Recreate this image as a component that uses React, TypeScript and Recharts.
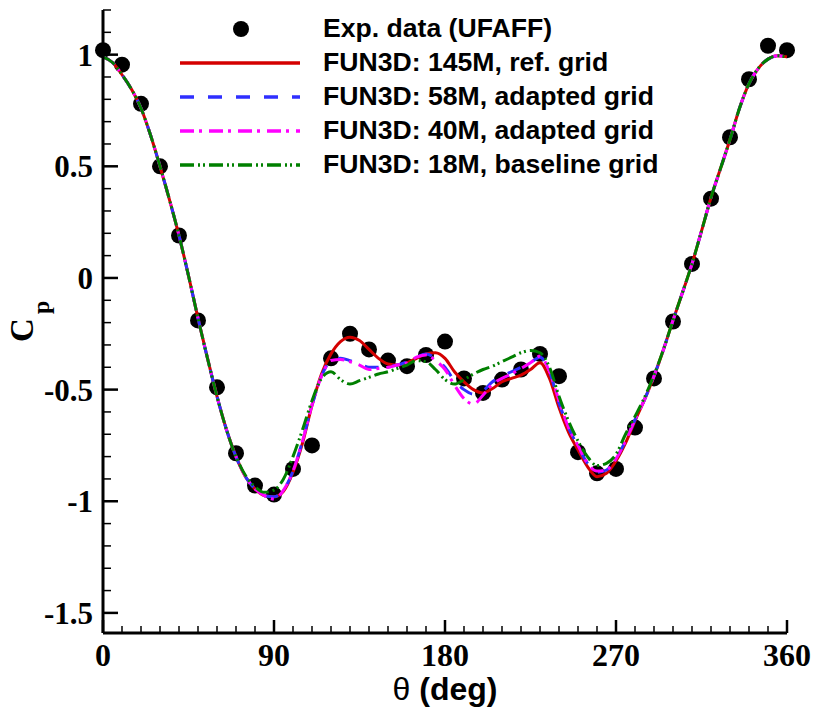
import React from "react";
import {
  ComposedChart,
  Line,
  XAxis,
  YAxis,
  Label,
} from "recharts";

// experimental points, every 10 deg
const thetaExp = [
  0, 10, 20, 30, 40, 50, 60, 70, 80, 90, 100, 110, 120, 130, 140, 150, 160, 170, 180,
  190, 200, 210, 220, 230, 240, 250, 260, 270, 280, 290, 300, 310, 320, 330, 340, 350, 360,
];
const cpExp = [
  1.02, 0.955, 0.78, 0.5, 0.19, -0.19, -0.49, -0.785, -0.93, -0.97, -0.855, -0.75, -0.36,
  -0.25, -0.32, -0.37, -0.395, -0.345, -0.285, -0.45, -0.515, -0.455, -0.41, -0.34, -0.44,
  -0.78, -0.875, -0.855, -0.67, -0.45, -0.195, 0.063, 0.355, 0.63, 0.89, 1.04, 1.02,
];

// CFD curves sampled every 5 deg
const thetaCfd = [
  0, 5, 10, 15, 20, 25, 30, 35, 40, 45, 50, 55, 60, 65, 70, 75, 80, 85, 90, 95, 100, 105,
  110, 115, 120, 125, 130, 135, 140, 145, 150, 155, 160, 165, 170, 175, 180, 185, 190, 195,
  200, 205, 210, 215, 220, 225, 230, 235, 240, 245, 250, 255, 260, 265, 270, 275, 280, 285,
  290, 295, 300, 305, 310, 315, 320, 325, 330, 335, 340, 345, 350, 355, 360,
];
const cp145M = [
  0.99, 0.965, 0.91, 0.845, 0.76, 0.64, 0.5, 0.35, 0.19, 0.01, -0.18, -0.36, -0.53, -0.68,
  -0.8, -0.89, -0.945, -0.975, -0.98, -0.955, -0.87, -0.74, -0.57, -0.43, -0.34, -0.285,
  -0.265, -0.28, -0.32, -0.36, -0.385, -0.39, -0.38, -0.36, -0.34, -0.335, -0.36, -0.42,
  -0.465, -0.5, -0.515, -0.495, -0.465, -0.45, -0.435, -0.41, -0.38, -0.45, -0.58, -0.69,
  -0.77, -0.845, -0.89, -0.875, -0.82, -0.74, -0.64, -0.545, -0.44, -0.32, -0.19, -0.065,
  0.063, 0.21, 0.36, 0.49, 0.62, 0.76, 0.87, 0.94, 0.98, 0.995, 0.99,
];
const cp58M = [
  0.99, 0.965, 0.91, 0.845, 0.76, 0.64, 0.5, 0.35, 0.19, 0.01, -0.18, -0.36, -0.53, -0.68,
  -0.8, -0.89, -0.945, -0.975, -0.98, -0.95, -0.865, -0.73, -0.57, -0.44, -0.37, -0.36,
  -0.37, -0.385, -0.4, -0.4, -0.395, -0.39, -0.375, -0.355, -0.34, -0.36, -0.4, -0.46,
  -0.5, -0.52, -0.505, -0.465, -0.44, -0.42, -0.4, -0.38, -0.355, -0.42, -0.56, -0.67,
  -0.755, -0.83, -0.87, -0.86, -0.81, -0.73, -0.635, -0.545, -0.44, -0.32, -0.19, -0.065,
  0.063, 0.21, 0.36, 0.49, 0.62, 0.76, 0.87, 0.94, 0.98, 0.995, 0.99,
];
const cp40M = [
  0.99, 0.965, 0.91, 0.845, 0.76, 0.64, 0.5, 0.35, 0.19, 0.01, -0.18, -0.36, -0.53, -0.68,
  -0.8, -0.89, -0.945, -0.975, -0.99, -0.95, -0.865, -0.73, -0.57, -0.44, -0.37, -0.365,
  -0.375, -0.39, -0.41, -0.405, -0.4, -0.39, -0.38, -0.355, -0.345, -0.37, -0.41, -0.48,
  -0.54, -0.565, -0.525, -0.475, -0.45, -0.43, -0.405, -0.38, -0.35, -0.42, -0.55, -0.67,
  -0.75, -0.83, -0.865, -0.86, -0.81, -0.73, -0.635, -0.545, -0.44, -0.32, -0.19, -0.065,
  0.063, 0.21, 0.36, 0.49, 0.62, 0.76, 0.87, 0.94, 0.98, 0.995, 0.99,
];
const cp18M = [
  0.99, 0.965, 0.91, 0.845, 0.76, 0.64, 0.5, 0.35, 0.19, 0.01, -0.18, -0.36, -0.53, -0.68,
  -0.8, -0.885, -0.935, -0.96, -0.95, -0.9, -0.8, -0.68, -0.55, -0.45, -0.42, -0.455,
  -0.475, -0.46, -0.445, -0.43, -0.42, -0.405, -0.39, -0.37, -0.375, -0.41, -0.455, -0.475,
  -0.455, -0.43, -0.41, -0.395, -0.375, -0.355, -0.335, -0.325, -0.335, -0.4, -0.53, -0.64,
  -0.73, -0.8, -0.84, -0.83, -0.79, -0.7, -0.62, -0.535, -0.435, -0.32, -0.19, -0.065,
  0.063, 0.21, 0.36, 0.49, 0.62, 0.76, 0.87, 0.94, 0.98, 0.995, 0.99,
];

const xTicks = [
  0, 10, 20, 30, 40, 50, 60, 70, 80, 90, 100, 110, 120, 130, 140, 150, 160, 170, 180, 190,
  200, 210, 220, 230, 240, 250, 260, 270, 280, 290, 300, 310, 320, 330, 340, 350, 360,
];
const xMajor = [0, 90, 180, 270, 360];
const xLabels = ["0", "90", "180", "270", "360"];

const yTicks = [
  -1.5, -1.4, -1.3, -1.2, -1.1, -1, -0.9, -0.8, -0.7, -0.6, -0.5, -0.4, -0.3, -0.2, -0.1, 0,
  0.1, 0.2, 0.3, 0.4, 0.5, 0.6, 0.7, 0.8, 0.9, 1, 1.1, 1.2,
];
const yMajor = [-1.5, -1, -0.5, 0, 0.5, 1];
const yLabels = ["-1.5", "-1", "-0.5", "0", "0.5", "1"];

const seriesNames = [
  "Exp. data (UFAFF)",
  "FUN3D: 145M, ref. grid",
  "FUN3D: 58M, adapted grid",
  "FUN3D: 40M, adapted grid",
  "FUN3D: 18M, baseline grid",
];

const serif = "'Liberation Serif', 'Times New Roman', serif";
const sans = "'Liberation Sans', Arial, sans-serif";

const lineStyles = [
  { color: "#d40000", dash: undefined },
  { color: "#2f2fff", dash: "14 14" },
  { color: "#ff00ff", dash: "14 5 3 7" },
  { color: "#008000", dash: "14 4 2 3 2 4" },
];

const toPoints = (xs: number[], ys: number[]) => xs.map((t, i) => ({ theta: t, cp: ys[i] }));

const expData = toPoints(thetaExp, cpExp);
const cfdSeries = [cp145M, cp58M, cp40M, cp18M].map((arr) => toPoints(thetaCfd, arr));

const XTick = (props: any) => {
  const { x, y, payload } = props;
  const idx = xMajor.indexOf(payload.value);
  const major = idx >= 0;
  return (
    <g>
      <line x1={x} y1={y} x2={x} y2={y - (major ? 13 : 7)} stroke="#000" strokeWidth={major ? 2.5 : 1.5} />
      {major && (
        <text x={x} y={y + 33} textAnchor="middle" fontFamily={serif} fontWeight="bold" fontSize={32} fill="#000">
          {xLabels[idx]}
        </text>
      )}
    </g>
  );
};

const YTick = (props: any) => {
  const { x, y, payload } = props;
  const idx = yMajor.findIndex((m) => Math.abs(m - payload.value) < 1e-6);
  const major = idx >= 0;
  return (
    <g>
      <line x1={x} y1={y} x2={x + (major ? 15 : 8)} y2={y} stroke="#000" strokeWidth={major ? 2.5 : 1.5} />
      {major && (
        <text x={x - 10} y={y + 11} textAnchor="end" fontFamily={serif} fontWeight="bold" fontSize={31} fill="#000">
          {yLabels[idx]}
        </text>
      )}
    </g>
  );
};

const renderXTitle = () => (
  <text x={445} y={700} textAnchor="middle" fontFamily={sans} fontWeight="bold" fontSize={32} fill="#000">
    <tspan fontWeight="normal">θ</tspan> (deg)
  </text>
);

const renderYTitle = () => (
  <g fill="#000" fontFamily={serif} fontWeight="bold">
    <text transform="translate(33, 342) rotate(-90)" fontSize={33}>C</text>
    <text transform="translate(49, 314) rotate(-90)" fontSize={24}>p</text>
  </g>
);

const LegendOverlay = () => (
  <svg width={814} height={200} style={{ position: "absolute", left: 0, top: 0, pointerEvents: "none" }}>
    <defs>
      {/* experimental marker, placed on every vertex of the stroke-less exp path so curves stay on top */}
      <marker id="expDot" viewBox="-9 -9 18 18" markerWidth={18} markerHeight={18} markerUnits="userSpaceOnUse" refX={0} refY={0} overflow="visible">
        <circle r={8} fill="#000" />
      </marker>
    </defs>
    <circle cx={241} cy={29} r={8} fill="#000" />
    {lineStyles.map((s, i) => (
      <line
        key={i}
        x1={180}
        x2={300}
        y1={63 + i * 34}
        y2={63 + i * 34}
        stroke={s.color}
        strokeWidth={3.5}
        strokeDasharray={s.dash}
      />
    ))}
    {seriesNames.map((n, i) => (
      <text key={n} x={323} y={37 + i * 34} fontFamily={sans} fontWeight="bold" fontSize={26.6} fill="#000">
        {n}
      </text>
    ))}
  </svg>
);

export default function App() {
  return (
    <div style={{ position: "absolute", left: 0, top: 0, width: 814, height: 712, background: "#fff" }}>
      <ComposedChart width={814} height={712} margin={{ top: 10, right: 27, left: 0, bottom: 0 }}>
        <XAxis
          type="number"
          dataKey="theta"
          domain={[0, 360]}
          ticks={xTicks}
          interval={0}
          height={79}
          tickSize={0}
          tickMargin={0}
          tickLine={false}
          tick={<XTick />}
          axisLine={{ stroke: "#000", strokeWidth: 3 }}
        >
          <Label content={renderXTitle} />
        </XAxis>
        <YAxis
          type="number"
          domain={[-1.59, 1.2]}
          ticks={yTicks}
          interval={0}
          width={103}
          tickSize={0}
          tickMargin={0}
          tickLine={false}
          tick={<YTick />}
          axisLine={{ stroke: "#000", strokeWidth: 3 }}
        >
          <Label content={renderYTitle} />
        </YAxis>
        <Line
          name={seriesNames[0]}
          data={expData}
          dataKey="cp"
          type="linear"
          stroke="none"
          markerStart="url(#expDot)"
          markerMid="url(#expDot)"
          markerEnd="url(#expDot)"
          dot={false}
          activeDot={false}
          isAnimationActive={false}
        />
        {cfdSeries.map((d, i) => (
          <Line
            key={i}
            name={seriesNames[i + 1]}
            data={d}
            dataKey="cp"
            type="monotone"
            stroke={lineStyles[i].color}
            strokeWidth={3}
            strokeDasharray={lineStyles[i].dash}
            dot={false}
            activeDot={false}
            isAnimationActive={false}
          />
        ))}
      </ComposedChart>
      <LegendOverlay />
    </div>
  );
}
